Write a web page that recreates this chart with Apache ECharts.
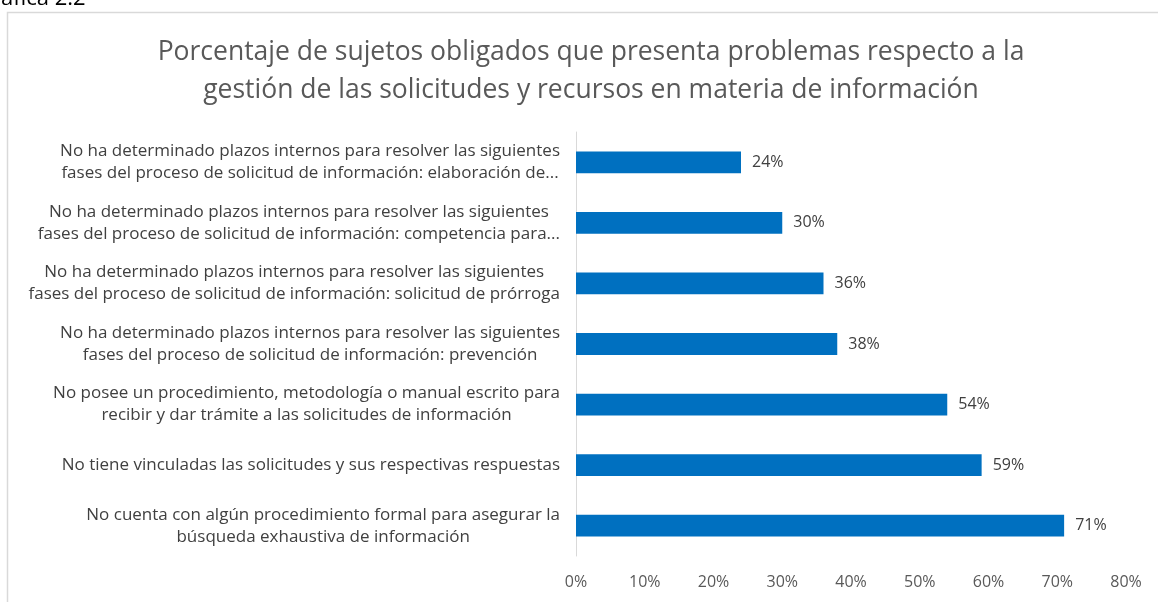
<!DOCTYPE html>
<html>
<head>
<meta charset="utf-8">
<script src="https://cdn.jsdelivr.net/npm/echarts@6/dist/echarts.min.js"></script>
<style>
  html, body {margin: 0; padding: 0; background: #fff;}
  #chart {width: 1158px; height: 602px;}
</style>
</head>
<body>
<div id="chart"></div>
<script>
const categories = [
  'No ha determinado plazos internos para resolver las siguientes\nfases del proceso de solicitud de información: elaboración de...',
  'No ha determinado plazos internos para resolver las siguientes\nfases del proceso de solicitud de información: competencia para...',
  'No ha determinado plazos internos para resolver las siguientes\nfases del proceso de solicitud de información: solicitud de prórroga',
  'No ha determinado plazos internos para resolver las siguientes\nfases del proceso de solicitud de información: prevención',
  'No posee un procedimiento, metodología o manual escrito para\nrecibir y dar trámite a las solicitudes de información',
  'No tiene vinculadas las solicitudes y sus respectivas respuestas',
  'No cuenta con algún procedimiento formal para asegurar la\nbúsqueda exhaustiva de información'
];
const values = [24, 30, 36, 38, 54, 59, 71];
const titleText = 'Porcentaje de sujetos obligados que presenta problemas respecto a la\ngestión de las solicitudes y recursos en materia de información';

const font = '"Open Sans", "DejaVu Sans", sans-serif';
const chart = echarts.init(document.getElementById('chart'));

chart.setOption({
  backgroundColor: '#fff',
  animation: false,
  title: {
    text: titleText,
    left: 586,
    top: 28,
    textAlign: 'center',
    textStyle: {
      fontFamily: font,
      fontSize: 26.5,
      fontWeight: 'normal',
      color: '#595959',
      lineHeight: 38
    }
  },
  graphic: [
    {
      type: 'rect',
      shape: {x: 7.5, y: 12.5, width: 1200, height: 700},
      style: {fill: 'none', stroke: '#d9d9d9', lineWidth: 1.5},
      silent: true
    },
    {
      type: 'text',
      silent: true,
      style: {
        x: -24, y: 10, verticalAlign: 'bottom',
        text: 'Gráfica 2.2', font: '22px ' + font, fill: '#000'
      }
    }
  ],
  grid: {left: 576, right: 32, top: 132, bottom: 46},
  xAxis: {
    type: 'value',
    min: 0,
    max: 80,
    interval: 10,
    splitLine: {show: false},
    axisLine: {show: false},
    axisTick: {show: false},
    axisLabel: {
      formatter: '{value}%',
      color: '#595959',
      fontFamily: font,
      fontSize: 16,
      margin: 18
    }
  },
  yAxis: {
    type: 'category',
    inverse: true,
    data: categories,
    axisLine: {show: true, lineStyle: {color: '#d9d9d9', width: 1}},
    axisTick: {show: false},
    axisLabel: {
      align: 'right',
      margin: 16,
      formatter: function (v) {
        return v.split('\n').map(function (s) { return '{c|' + s + '}'; }).join('\n');
      },
      rich: {
        c: {
          align: 'center',
          color: '#404040',
          fontFamily: font,
          fontSize: 17,
          lineHeight: 22
        }
      }
    }
  },
  series: [{
    type: 'bar',
    data: values,
    barWidth: '36%',
    itemStyle: {color: '#0070c0'},
    label: {
      show: true,
      position: 'right',
      distance: 11,
      formatter: '{c}%',
      color: '#404040',
      fontFamily: font,
      fontSize: 16
    }
  }]
});
</script>
</body>
</html>
